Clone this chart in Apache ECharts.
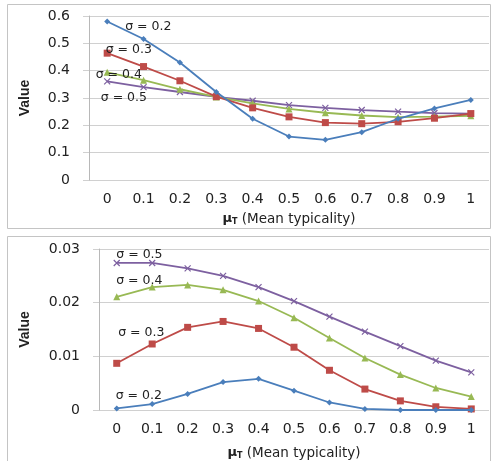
<!DOCTYPE html>
<html><head><meta charset="utf-8">
<script src="https://cdn.jsdelivr.net/npm/echarts@6/dist/echarts.min.js"></script>
<style>html,body{margin:0;padding:0;background:#fff}#c{width:494px;height:461px}</style>
</head><body><div id="c"></div>
<script>
var categories = ['0','0.1','0.2','0.3','0.4','0.5','0.6','0.7','0.8','0.9','1'];
var topTicks = [0, 0.1, 0.2, 0.3, 0.4, 0.5, 0.6];
var bottomTicks = [0, 0.01, 0.02, 0.03];
var sigmaNames = ['σ = 0.2', 'σ = 0.3', 'σ = 0.4', 'σ = 0.5'];

var top02 = [0.580, 0.516, 0.430, 0.322, 0.224, 0.159, 0.147, 0.175, 0.224, 0.262, 0.293];
var top03 = [0.464, 0.415, 0.363, 0.305, 0.264, 0.231, 0.210, 0.206, 0.213, 0.226, 0.243];
var top04 = [0.394, 0.365, 0.332, 0.304, 0.280, 0.260, 0.246, 0.236, 0.230, 0.232, 0.235];
var top05 = [0.361, 0.340, 0.322, 0.304, 0.290, 0.274, 0.264, 0.256, 0.250, 0.245, 0.243];

var bot02 = [0.0003, 0.0011, 0.0030, 0.0052, 0.0058, 0.0036, 0.0014, 0.0002, 0.0000, 0.0000, 0.0000];
var bot03 = [0.0087, 0.0123, 0.0154, 0.0165, 0.0152, 0.0117, 0.0074, 0.0039, 0.0017, 0.0006, 0.0002];
var bot04 = [0.0211, 0.0229, 0.0233, 0.0224, 0.0203, 0.0172, 0.0134, 0.0097, 0.0066, 0.0041, 0.0025];
var bot05 = [0.0274, 0.0274, 0.0264, 0.0250, 0.0229, 0.0203, 0.0174, 0.0146, 0.0119, 0.0092, 0.0070];

var colors = ['#4A7EBB', '#BE4B48', '#98B954', '#7D60A0'];
var symbols = ['diamond', 'rect', 'triangle', 'path://M0,0L10,10M10,0L0,10'];
var symSizes = [6, 7, 7, 6];

var chart = echarts.init(document.getElementById('c'));

function mkSeries(name, data, idx, axisIdx, labelOffset) {
  var d = data.map(function (v, i) {
    if (i === 0) {
      return { value: v, label: { show: true, formatter: name, position: 'right', offset: labelOffset,
        fontFamily: 'DejaVu Sans', fontSize: 12.5, color: '#222' } };
    }
    return v;
  });
  return {
    type: 'line', name: name, xAxisIndex: axisIdx, yAxisIndex: axisIdx, data: d,
    symbol: symbols[idx], symbolSize: symSizes[idx], showSymbol: true,
    lineStyle: { color: colors[idx], width: 1.8 },
    itemStyle: { color: colors[idx], borderColor: colors[idx], borderWidth: idx === 3 ? 1.2 : 0 },
    label: { show: false },
    z: 10 - idx, animation: false
  };
}

var axisNameRich = {
  mu: { fontFamily: 'DejaVu Sans', fontWeight: 'bold', fontSize: 13, color: '#222' },
  sub: { fontFamily: 'DejaVu Sans', fontWeight: 'bold', fontSize: 8, color: '#222', verticalAlign: 'bottom', padding: [6, 0, 0, 0] },
  t: { fontFamily: 'DejaVu Sans', fontSize: 13.5, color: '#222' }
};

function xAxisCfg(gridIdx) {
  return {
    type: 'category', gridIndex: gridIdx, data: categories, boundaryGap: true,
    axisLine: { show: false }, axisTick: { show: false },
    axisLabel: { fontFamily: 'DejaVu Sans', fontSize: 14, color: '#222', margin: 12 },
    name: '{mu|μ}{sub|T}{t| (Mean typicality)}', nameLocation: 'middle', nameGap: gridIdx === 0 ? 32 : 36,
    nameTextStyle: { rich: axisNameRich }
  };
}

function yAxisCfg(gridIdx, ticks, fmt) {
  return {
    type: 'value', gridIndex: gridIdx, min: ticks[0], max: ticks[ticks.length - 1],
    interval: ticks[1] - ticks[0],
    axisLine: { show: true, lineStyle: { color: '#b8b8b8', width: 1 } },
    axisTick: { show: true, length: 6, lineStyle: { color: '#d0d0d0' } },
    splitLine: { show: true, lineStyle: { color: '#d0d0d0', width: 1 } },
    axisLabel: { fontFamily: 'DejaVu Sans', fontSize: 14, color: '#222', margin: 19, formatter: fmt },
    name: 'Value', nameLocation: 'middle', nameRotate: 90, nameGap: gridIdx === 0 ? 57 : 67,
    nameTextStyle: { fontFamily: 'Liberation Sans Narrow, Liberation Sans, sans-serif', fontWeight: 'bold', fontSize: 14, color: '#222' }
  };
}

chart.setOption({
  backgroundColor: '#fff',
  animation: false,
  graphic: [
    { type: 'rect', shape: { x: 7.5, y: 4.5, width: 483, height: 224 }, style: { fill: 'none', stroke: '#c4c4c4', lineWidth: 1 }, silent: true },
    { type: 'rect', shape: { x: 7.5, y: 236.5, width: 483, height: 240 }, style: { fill: 'none', stroke: '#c4c4c4', lineWidth: 1 }, silent: true }
  ],
  grid: [
    { left: 89, right: 5, top: 16, bottom: 281 },
    { left: 99, right: 5, top: 249, bottom: 49 }
  ],
  xAxis: [xAxisCfg(0), xAxisCfg(1)],
  yAxis: [
    yAxisCfg(0, topTicks, function (v) { return v === 0 ? '0' : v.toFixed(1); }),
    yAxisCfg(1, bottomTicks, function (v) { return v === 0 ? '0' : v.toFixed(2); })
  ],
  series: [
    mkSeries(sigmaNames[0], top02, 0, 0, [10, 5]),
    mkSeries(sigmaNames[1], top03, 1, 0, [-10, -3]),
    mkSeries(sigmaNames[2], top04, 2, 0, [-20, 2]),
    mkSeries(sigmaNames[3], top05, 3, 0, [-15, 16]),
    mkSeries(sigmaNames[0], bot02, 0, 1, [-9, -13]),
    mkSeries(sigmaNames[1], bot03, 1, 1, [-7, -31]),
    mkSeries(sigmaNames[2], bot04, 2, 1, [-9, -16]),
    mkSeries(sigmaNames[3], bot05, 3, 1, [-9, -8])
  ]
});
</script></body></html>
